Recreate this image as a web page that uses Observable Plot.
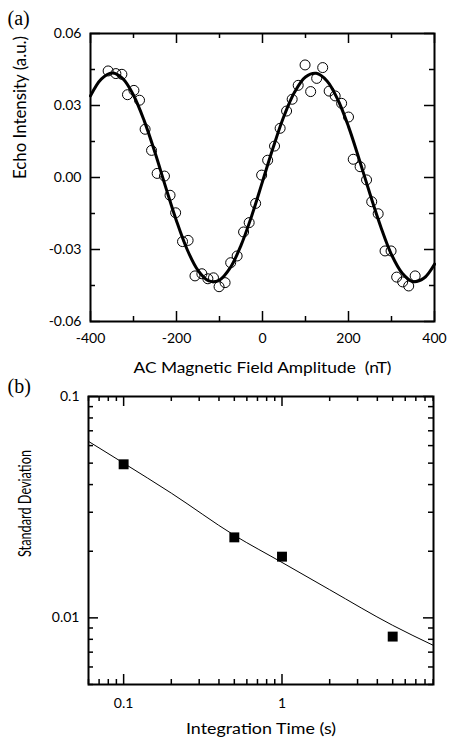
<!DOCTYPE html>
<html><head><meta charset="utf-8">
<script src="https://cdn.jsdelivr.net/npm/d3@7"></script>
<script src="https://cdn.jsdelivr.net/npm/@observablehq/plot@0.6"></script>
<style>
body{margin:0;background:#fff;}
#wrap{width:450px;}
#wrap svg{display:block;overflow:visible;}
</style>
</head><body><div id="wrap"></div>
<script>
// ---- Panel (a) data ----
const fieldX = [-359,-341,-327,-314,-299,-286,-273,-258,-245,-228,-215,-202,-186,-173,-157,-141,-127,-114,-101,-87,-74,-59,-44,-31,-16,-2,12,28,41,56,69,83,99,112,126,140,155,169,184,200,211,227,242,254,269,285,299,312,326,340,355];
const echoY = [0.0444,0.0433,0.0430,0.0345,0.0363,0.0322,0.0201,0.0113,0.0017,0.0006,-0.0074,-0.0147,-0.0267,-0.0262,-0.0410,-0.0401,-0.0422,-0.0418,-0.0455,-0.0438,-0.0355,-0.0327,-0.0227,-0.0188,-0.0108,0.0010,0.0072,0.0131,0.0205,0.0277,0.0326,0.0384,0.0469,0.0358,0.0413,0.0458,0.0360,0.0340,0.0309,0.0252,0.0076,0.0045,-0.0010,-0.0101,-0.0151,-0.0306,-0.0306,-0.0415,-0.0435,-0.0452,-0.0410];
const fitFieldX = [-400,-375,-350,-325,-300,-275,-250,-225,-200,-175,-150,-125,-100,-75,-50,-25,0,25,50,75,100,125,150,175,200,225,250,275,300,325,350,375,400];
const fitEchoY = [0.0340,0.0410,0.0435,0.0412,0.0343,0.0236,0.0104,-0.0041,-0.0181,-0.0301,-0.0387,-0.0431,-0.0427,-0.0376,-0.0283,-0.0159,-0.0017,0.0126,0.0256,0.0357,0.0419,0.0434,0.0402,0.0325,0.0212,0.0075,-0.0069,-0.0205,-0.0321,-0.0399,-0.0434,-0.0420,-0.0361];
const xTicksA = [-400,-200,0,200,400];
const xMinorA = [-300,-100,100,300];
const yTicksA = [-0.06,-0.03,0,0.03,0.06];
const yMinorA = [-0.045,-0.015,0.015,0.045];

// ---- Panel (b) data ----
const timeX = [0.1,0.5,1,5];
const stdY = [0.0494,0.0231,0.0189,0.00823];
const fitTimeX = [0.06,0.1,0.2,0.5,1,2,5,9];
const fitStdY = [0.0627,0.0500,0.0366,0.0236,0.0178,0.0134,0.00925,0.00752];
const xTicksB = [0.1,1];
const xMinorB = [0.06,0.07,0.08,0.09,0.2,0.3,0.4,0.5,0.6,0.7,0.8,0.9,2,3,4,5,6,7,8,9];
const yTicksB = [0.01,0.1];
const yMinorB = [0.005,0.006,0.007,0.008,0.009,0.02,0.03,0.04,0.05,0.06,0.07,0.08,0.09];

const scatter = fieldX.map((x,i)=>({x, y: echoY[i]}));
const fitA = fitFieldX.map((x,i)=>({x, y: fitEchoY[i]}));
const squares = timeX.map((x,i)=>({x, y: stdY[i]}));
const fitB = fitTimeX.map((x,i)=>({x, y: fitStdY[i]}));

function frameTicks(xMaj, xMin, yMaj, yMin, iw, ih) {
  const M = 10, m = 5, sw = 1.5;
  return [
    Plot.tickX(xMaj, {x: d=>d, insetTop: ih-M, strokeWidth: sw}),
    Plot.tickX(xMaj, {x: d=>d, insetBottom: ih-M, strokeWidth: sw}),
    Plot.tickX(xMin, {x: d=>d, insetTop: ih-m, strokeWidth: sw}),
    Plot.tickX(xMin, {x: d=>d, insetBottom: ih-m, strokeWidth: sw}),
    Plot.tickY(yMaj, {y: d=>d, insetRight: iw-M, strokeWidth: sw}),
    Plot.tickY(yMaj, {y: d=>d, insetLeft: iw-M, strokeWidth: sw}),
    Plot.tickY(yMin, {y: d=>d, insetRight: iw-m, strokeWidth: sw}),
    Plot.tickY(yMin, {y: d=>d, insetLeft: iw-m, strokeWidth: sw})
  ];
}

const labelA_y = "Echo Intensity (a.u.)";
const labelA_x = "AC Magnetic Field Amplitude  (nT)";
const labelB_y = "Standard Deviation";
const labelB_x = "Integration Time (s)";

const plotA = Plot.plot({
  width: 450, height: 374,
  marginLeft: 90, marginRight: 16, marginTop: 33, marginBottom: 53,
  style: {fontFamily: "Lato", fontSize: "14px", color: "black", background: "white", overflow: "visible"},
  x: {domain: [-400, 400]},
  y: {domain: [-0.06, 0.06]},
  marks: [
    ...frameTicks(xTicksA, xMinorA, yTicksA, yMinorA, 344, 288),
    Plot.dot(scatter, {x: "x", y: "y", r: 5, stroke: "black", strokeWidth: 1, fill: "none"}),
    Plot.line(fitA, {x: "x", y: "y", curve: "catmull-rom", stroke: "black", strokeWidth: 3}),
    Plot.frame({stroke: "black", strokeWidth: 2}),
    Plot.axisX(xTicksA, {tickSize: 0, tickPadding: 12, tickFormat: d => String(d), label: null}),
    Plot.axisY(yTicksA, {tickSize: 0, tickPadding: 9, tickFormat: d => d.toFixed(2), label: null}),
    Plot.text([labelA_y], {text: d=>d, frameAnchor: "left", lineAnchor: "middle", dx: -70, dy: 1.5, rotate: -90, fontSize: 17}),
    Plot.text([labelA_x], {text: d=>d, frameAnchor: "bottom", lineAnchor: "middle", dy: 46, fontSize: 16}),
    Plot.text(["(a)"], {text: d=>d, frameAnchor: "top-left", lineAnchor: "middle", dx: -83, dy: -15, textAnchor: "start", fontFamily: "Liberation Serif", fontSize: 20})
  ]
});

const plotB = Plot.plot({
  width: 450, height: 364,
  marginLeft: 88, marginRight: 17, marginTop: 22, marginBottom: 54,
  style: {fontFamily: "Lato", fontSize: "14px", color: "black", background: "white", overflow: "visible"},
  x: {type: "log", domain: [0.06, 9.05]},
  y: {type: "log", domain: [0.005, 0.1]},
  marks: [
    ...frameTicks(xTicksB, xMinorB, yTicksB, yMinorB, 345, 288),
    Plot.line(fitB, {x: "x", y: "y", curve: "monotone-x", stroke: "black", strokeWidth: 1}),
    Plot.dot(squares, {x: "x", y: "y", symbol: "square", r: 5.6, fill: "black", stroke: "none"}),
    Plot.frame({stroke: "black", strokeWidth: 2}),
    Plot.axisX(xTicksB, {tickSize: 0, tickPadding: 14, tickFormat: d => String(d), label: null}),
    Plot.axisY(yTicksB, {tickSize: 0, tickPadding: 9, tickFormat: d => String(d), label: null}),
    Plot.text([labelB_y], {text: d=>d, frameAnchor: "left", lineAnchor: "middle", dx: -63, dy: 16.5, rotate: -90, fontSize: 17}),
    Plot.text([labelB_x], {text: d=>d, frameAnchor: "bottom", lineAnchor: "middle", dy: 44, fontSize: 16}),
    Plot.text(["(b)"], {text: d=>d, frameAnchor: "top-left", lineAnchor: "middle", dx: -81, dy: -10, textAnchor: "start", fontFamily: "Liberation Serif", fontSize: 20})
  ]
});

const wrap = document.getElementById("wrap");
wrap.appendChild(plotA);
wrap.appendChild(plotB);

function squeeze(svg, str, len) {
  d3.select(svg).selectAll("text").filter(function(){ return this.textContent === str; })
    .attr("textLength", len).attr("lengthAdjust", "spacingAndGlyphs");
}
squeeze(plotA, labelA_y, 143);
squeeze(plotA, labelA_x, 258);
squeeze(plotB, labelB_y, 107);
squeeze(plotB, labelB_x, 150);
</script>
</body></html>
